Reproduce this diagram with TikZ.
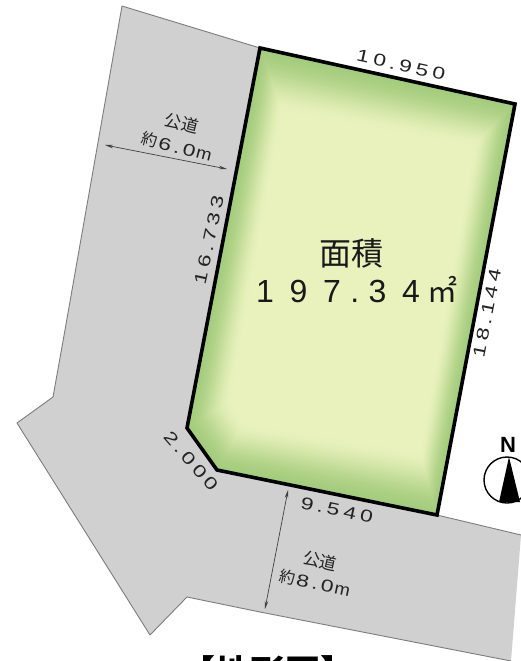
\documentclass[tikz,border=0pt]{standalone}
\usepackage{fontspec}
\usepackage{graphicx}
\setmainfont{Liberation Sans}
\newfontfamily\cjk{Noto Sans CJK JP}
\usetikzlibrary{calc,arrows.meta}
\definecolor{lotout}{RGB}{165,204,125}
\definecolor{lotin}{RGB}{233,242,189}
\definecolor{roadfill}{RGB}{208,208,208}
\definecolor{roadline}{RGB}{125,125,125}
\definecolor{inktext}{RGB}{35,35,35}
\newdimen\pw \pw=17pt
\newdimen\qw \qw=9.5pt
\newcommand\xs{1.35}
\newcommand\dgt[1]{\makebox[\pw]{\scalebox{\xs}[1]{#1}}}
\newcommand\dpt{\makebox[\qw]{\scalebox{\xs}[1]{.}}}
\tikzset{
  dimlabel/.style={font=\fontsize{17}{18}\selectfont, inner sep=0pt, text=inktext},
  roadname/.style={font=\cjk\fontsize{17}{18}\selectfont, inner sep=0pt, text=inktext},
  widtharrow/.style={draw=black!75, line width=0.7pt, {Stealth[length=8pt,width=3.5pt]}-{Stealth[length=8pt,width=3.5pt]}},
  areatext/.style={inner sep=0pt, text=black!90},
}
\begin{document}
\begin{tikzpicture}[x=1pt,y=-1pt]
\clip (0,0) rectangle (521,661);
\fill[white] (0,0) rectangle (521,661);
% road
\fill[roadfill] (122,6) -- (260,48) -- (515,104) -- (437,515) -- (521,535) -- (511,661) -- (260,612) -- (187,597) -- (150,635) -- (17,423) -- (53,397) -- (65,330) -- cycle;
\draw[roadline, line width=0.9pt, line join=round] (260,48) -- (122,6) -- (65,330) -- (53,397) -- (17,423) -- (150,635) -- (187,597) -- (260,612) -- (511,661);
\draw[roadline, line width=0.9pt] (437,515) -- (521,535);
% lot corners
\coordinate (a) at (260,48);   \coordinate (ai) at (283,113);
\coordinate (b) at (515,104);  \coordinate (bi) at (473,147);
\coordinate (c) at (437,515);  \coordinate (ci) at (420,450);
\coordinate (d) at (217,470);  \coordinate (di) at (245,423);
\coordinate (e) at (187,428);  \coordinate (ei) at (232,400);
\foreach \i in {0,...,50}{
  \pgfmathsetmacro\t{\i/50}
  \pgfmathsetmacro\p{100*(1-\t)*(1-\t)*(1+2*\t)}
  \fill[lotout!\p!lotin] ($(a)!\t!(ai)$) -- ($(b)!\t!(bi)$) -- ($(c)!\t!(ci)$) -- ($(d)!\t!(di)$) -- ($(e)!\t!(ei)$) -- cycle;
}
\draw[black, line width=3.6pt, line join=miter] (a) -- (b) -- (c) -- (d) -- (e) -- cycle;
% labels
\node[dimlabel, rotate=-12.5] (top) at (401,65) {\dgt{1}\dgt{0}\dpt\dgt{9}\dgt{5}\dgt{0}};
\node[dimlabel, rotate=78] (left) at (209,240) {\dgt{1}\dgt{6}\dpt\dgt{7}\dgt{3}\dgt{3}};
\node[dimlabel, rotate=79] (right) at (487,313) {\dgt{1}\dgt{8}\dpt\dgt{1}\dgt{4}\dgt{4}};
\node[dimlabel, rotate=-49] (cham) at (191,461) {\dgt{2}\dpt\dgt{0}\dgt{0}\dgt{0}};
\node[dimlabel, rotate=-12] (bot) at (337,510) {\dgt{9}\dpt\dgt{5}\dgt{4}\dgt{0}};
% road captions
\node[roadname, rotate=-14] (r1) at (182,123) {公道};
\node[dimlabel, rotate=-14.5] (r1w) at (177,147) {{\cjk\fontsize{16}{16}\selectfont 約}\pw=15pt\qw=10pt\dgt{6}\dpt\dgt{0}\scalebox{1.1}[1]{m}};
\node[roadname, rotate=-12] (r2) at (320,561) {公道};
\node[dimlabel, rotate=-12] (r2w) at (315,583) {{\cjk\fontsize{16}{16}\selectfont 約}\pw=15pt\qw=10pt\dgt{8}\dpt\dgt{0}\scalebox{1.1}[1]{m}};
% width arrows
\coordinate (w1a) at (105,145); \coordinate (w1b) at (227,169);
\draw[widtharrow] (w1a) -- (w1b);
\coordinate (w2a) at (288,490); \coordinate (w2b) at (265,609);
\draw[widtharrow] (w2a) -- (w2b);
% area
\node[areatext, font=\cjk\fontsize{32}{33}\selectfont] (area) at (351,253) {面積};
\node[areatext, font=\fontsize{32}{33}\selectfont] (num) at (353,290) {\renewcommand\xs{1}\pw=33.5pt\qw=12pt\dgt{1}\dgt{9}\dgt{7}\dpt\dgt{3}\dgt{4}{\cjk\fontsize{30}{30}\selectfont ㎡}};
% compass
\node[inner sep=0pt, font=\bfseries\fontsize{22}{22}\selectfont] (north) at (508,445) {N};
\coordinate (cc) at (507,480);
\draw[black, line width=1.4pt] (cc) circle (23);
\fill[black] (509,457) -- (520,502) -- (499,502) -- cycle;
% title
\node[inner sep=0pt, font=\cjk\bfseries\fontsize{35}{35}\selectfont] (title) at (268,672) {【地形図】};
\end{tikzpicture}
\end{document}
